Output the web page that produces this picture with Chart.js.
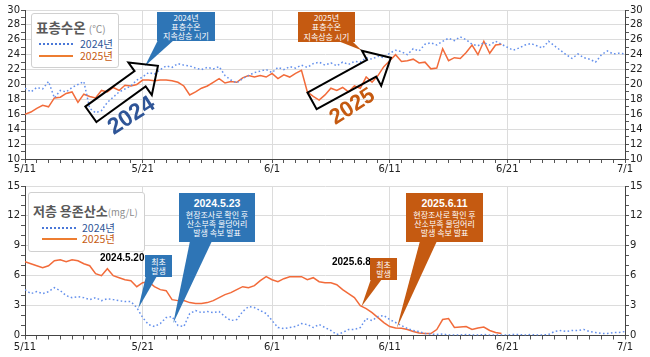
<!DOCTYPE html>
<html><head><meta charset="utf-8">
<script src="https://cdn.jsdelivr.net/npm/chart.js@4/dist/chart.umd.min.js"></script>
<style>
html,body{margin:0;padding:0;background:#fff;}
#wrap{position:relative;width:650px;height:357px;overflow:hidden;font-family:"Noto Sans CJK KR","Noto Sans",sans-serif;}
canvas{position:absolute;left:0;}
#c1{top:0;}
#c2{top:178px;}
.co{position:absolute;z-index:6;color:#fff;text-align:center;box-sizing:border-box;display:flex;flex-direction:column;justify-content:center;align-items:center;font-size:8px;line-height:9.2px;white-space:nowrap;}
.blue{background:#2e75b6;}
.orange{background:#c55a11;}
.co b{font-family:"Liberation Sans",Arial,sans-serif;font-size:10.5px;line-height:12.5px;}
.leg{position:absolute;z-index:5;background:#fff;border:1px solid #d0d0d0;border-radius:3px;box-sizing:border-box;}
.legt{position:absolute;white-space:nowrap;font-weight:bold;color:#595959;}
.legt span{font-weight:normal;color:#8c8c8c;}
.legr{position:absolute;white-space:nowrap;font-size:10.5px;line-height:12px;}
.big{position:absolute;z-index:5;font-family:"Liberation Sans",Arial,sans-serif;font-weight:bold;white-space:nowrap;line-height:1;transform:translate(-50%,-50%) rotate(-33deg);}
.blk{position:absolute;z-index:5;font-family:"Liberation Sans",Arial,sans-serif;font-weight:bold;font-size:10px;color:#000;white-space:nowrap;line-height:1;}
</style>
</head><body>
<div id="wrap">
<canvas id="c1" width="650" height="178"></canvas>
<canvas id="c2" width="650" height="179"></canvas>

<!-- top legend -->
<div class="leg" style="left:31px;top:13px;width:88px;height:55px;">
  <div class="legt" style="left:4px;top:3px;font-size:13.5px;">표층수온 <span style="font-size:10px;">(℃)</span></div>
  <svg style="position:absolute;left:7px;top:28px;" width="34" height="4"><line x1="0" y1="2" x2="34" y2="2" stroke="#4a78d8" stroke-width="2" stroke-dasharray="2,2"/></svg>
  <div class="legr" style="left:48px;top:24px;color:#2f5597;">2024년</div>
  <svg style="position:absolute;left:7px;top:40px;" width="34" height="4"><line x1="0" y1="2" x2="34" y2="2" stroke="#ed7d31" stroke-width="2"/></svg>
  <div class="legr" style="left:48px;top:36px;color:#c55a11;">2025년</div>
</div>

<!-- bottom legend -->
<div class="leg" style="left:28px;top:192px;width:117px;height:60px;">
  <div class="legt" style="left:4px;top:8px;font-size:13px;">저층 용존산소<span style="font-size:9.5px;">(mg/L)</span></div>
  <svg style="position:absolute;left:13px;top:33px;" width="35" height="4"><line x1="0" y1="2" x2="35" y2="2" stroke="#4a78d8" stroke-width="2" stroke-dasharray="2,2"/></svg>
  <div class="legr" style="left:53px;top:29px;color:#2f5597;">2024년</div>
  <svg style="position:absolute;left:13px;top:44px;" width="35" height="4"><line x1="0" y1="2" x2="35" y2="2" stroke="#ed7d31" stroke-width="2"/></svg>
  <div class="legr" style="left:53px;top:40px;color:#c55a11;">2025년</div>
</div>

<!-- top callouts -->
<div class="co blue" style="left:157px;top:12px;width:58px;height:29px;"><div>2024년</div><div>표층수온</div><div>지속상승 시기</div></div>
<div class="co orange" style="left:298px;top:12px;width:57px;height:30px;"><div>2025년</div><div>표층수온</div><div>지속상승 시기</div></div>
<div class="big" style="left:131px;top:115px;font-size:23px;color:#2f5597;">2024</div>
<div class="big" style="left:352px;top:106px;font-size:22px;color:#c55a11;">2025</div>

<!-- bottom callouts -->
<div class="blk" style="left:100px;top:253px;">2024.5.20</div>
<div class="blk" style="left:332px;top:257px;">2025.6.8</div>
<div class="co blue" style="left:145px;top:255px;width:27px;height:22px;"><div>최초</div><div>발생</div></div>
<div class="co orange" style="left:370px;top:258px;width:27px;height:22px;"><div>최초</div><div>발생</div></div>
<div class="co blue" style="left:179px;top:193px;width:76px;height:49px;"><b>2024.5.23</b><div>현장조사로 확인 후</div><div>산소부족 물덩어리</div><div>발생 속보 발표</div></div>
<div class="co orange" style="left:406px;top:193px;width:77px;height:49px;"><b>2025.6.11</b><div>현장조사로 확인 후</div><div>산소부족 물덩어리</div><div>발생 속보 발표</div></div>
</div>

<script>
// ---------------- data ----------------
const STEP = 0.5; // days between readings, starting 5/11
const tickDays   = [0, 10, 21, 31, 41, 51];
const tickLabels = ['5/11', '5/21', '6/1', '6/11', '6/21', '7/1'];
const seriesNames = ['2024년', '2025년'];

// 표층수온 (℃)
const temp2024 = [
 19.5,19.0,19.6,19.4,20.4,18.2,19.2,19.0,19.6,20.0,
 20.4,16.8,16.2,16.5,17.6,18.3,19.0,19.4,19.8,20.6,
 21.0,21.6,21.4,22.0,22.5,22.3,22.8,22.6,22.5,22.2,
 22.0,22.3,22.1,22.4,21.2,20.6,20.2,20.8,21.2,21.6,
 21.8,22.0,21.6,22.3,22.0,22.4,22.2,22.6,22.3,22.8,
 23.0,22.6,22.9,22.5,23.0,22.7,23.1,23.0,23.6,23.4,
 23.8,23.6,24.2,24.6,24.4,24.0,24.8,24.5,25.4,25.6,
 25.3,25.8,26.2,25.9,26.4,26.0,25.4,25.2,25.6,25.3,
 25.8,25.4,25.0,24.6,24.9,25.3,25.5,25.2,24.9,25.8,
 25.2,24.6,24.0,23.5,24.1,23.6,23.4,23.0,24.0,24.5,
 24.1,24.2,24.1
];
const temp2025 = [
 16.0,16.3,16.8,17.2,17.0,18.2,18.3,18.8,19.0,17.6,
 18.7,18.4,18.2,19.2,19.0,19.6,19.2,19.9,19.8,20.0,
 20.6,20.6,20.5,20.6,20.6,20.5,20.3,19.8,18.6,19.0,
 19.5,19.8,20.3,20.8,20.2,20.4,20.3,20.9,21.2,21.0,
 21.2,21.0,21.5,20.8,21.3,21.0,21.5,21.9,19.0,18.4,
 17.9,18.6,19.5,19.2,19.6,19.0,19.8,19.5,21.0,20.3,
 21.2,22.4,23.2,24.0,23.1,23.2,23.4,22.9,23.0,22.1,
 22.2,24.8,23.2,23.6,23.5,24.3,25.3,24.0,25.8,24.2,
 25.3,25.4
];
// 저층 용존산소 (mg/L)
const do2024 = [
 4.6,4.2,4.4,4.2,4.4,4.8,4.5,4.0,3.8,3.9,
 3.8,3.6,3.8,3.5,3.7,3.6,3.5,3.4,3.4,2.8,
 1.8,1.1,0.9,1.2,1.8,1.9,1.0,0.9,2.2,2.5,
 2.3,2.4,2.3,2.4,1.9,1.5,1.6,2.4,2.9,2.8,
 2.5,2.2,1.5,0.8,0.7,0.8,0.9,1.2,1.1,0.8,
 1.1,0.8,0.5,0.1,0.3,0.6,0.6,0.8,1.7,1.5,
 1.9,2.0,1.6,1.3,1.0,0.7,0.5,0.4,0.2,0.15,
 0.1,0.15,0.05,0.05,0.05,0.1,0.05,0.05,0.1,0.05,
 0.05,0.05,0.05,0.1,0.1,0.05,0.1,0.05,0.05,0.1,
 0.4,0.5,0.4,0.5,0.5,0.6,0.4,0.3,0.2,0.2,
 0.3,0.3,0.4
];
const do2025 = [
 7.4,7.2,7.0,6.8,7.0,7.5,7.6,7.4,7.6,7.5,
 7.2,7.0,6.2,6.0,6.7,6.0,5.8,5.6,5.5,4.9,
 5.3,5.4,4.9,4.6,4.5,3.6,3.5,3.5,3.3,3.2,
 3.2,3.3,3.5,3.8,4.1,4.3,4.6,4.9,4.8,5.0,
 5.5,5.9,5.6,5.4,5.7,5.9,5.9,5.9,5.6,5.8,
 5.4,5.3,5.3,5.1,4.6,4.2,3.8,3.0,2.7,2.3,
 1.8,1.3,0.9,0.75,0.72,0.6,0.4,0.25,0.2,0.2,
 0.6,1.6,1.7,0.8,0.85,0.9,0.6,0.75,0.85,0.5,
 0.3,0.2
];

// ---------------- helpers ----------------
const BLUE = '#6490ec', ORANGE = '#f26b3a';
const toPts = arr => arr.map((v, i) => ({x: i * STEP, y: v}));
const tickFont = {family: 'DejaVu Sans', size: 10};

function xScale(h, pad) {
  return {
    type: 'linear', min: 0, max: 51,
    ticks: {stepSize: 1, autoSkip: false, maxRotation: 0, padding: pad, color: '#222', font: tickFont,
      callback: v => { const i = tickDays.indexOf(v); return i >= 0 ? tickLabels[i] : ''; }},
    grid: {color: c => (c.tick && tickDays.includes(c.tick.value) && c.tick.value > 0 && c.tick.value < 51) ? '#dcdcdc' : 'rgba(0,0,0,0)',
      tickColor: '#555', tickLength: 4},
    border: {color: '#444', width: 1},
    afterFit: s => { s.height = h; }
  };
}
function yScale(pos, min, max, lab) {
  return {
    type: 'linear', position: pos, min: min, max: max,
    ticks: {stepSize: 1, autoSkip: false, padding: 1, color: '#222', font: tickFont,
      callback: v => (Math.round(v - min) % lab === 0) ? String(v) : ''},
    grid: {color: c => (c.tick && Math.round(c.tick.value - min) % lab === 0) ? '#dcdcdc' : 'rgba(0,0,0,0)',
      tickColor: '#555', tickLength: 4, drawOnChartArea: pos === 'left'},
    border: {color: '#444', width: 1},
    afterFit: s => { s.width = 25; }
  };
}

function annotPlugin(items, offY) {
  return {
    id: 'annot',
    afterDatasetsDraw(chart) {
      const ctx = chart.ctx, xs = chart.scales.x, ys = chart.scales.y;
      const P = p => [xs.getPixelForValue(p[0]), ys.getPixelForValue(p[1])];
      ctx.save();
      items.forEach(it => {
        if (it.type === 'pointer') {
          const t = P(it.tip);
          ctx.beginPath();
          ctx.moveTo(it.base[0][0], it.base[0][1] - offY);
          ctx.lineTo(it.base[1][0], it.base[1][1] - offY);
          ctx.lineTo(t[0], t[1]);
          ctx.closePath();
          ctx.fillStyle = it.color; ctx.fill();
        } else if (it.type === 'arrow') {
          const a = P(it.from), b = P(it.to);
          const dx = b[0] - a[0], dy = b[1] - a[1], L = Math.hypot(dx, dy);
          const ux = dx / L, uy = dy / L, nx = -uy, ny = ux;
          const s = 9.5, h = 20, hl = 22;
          const bx = b[0] - ux * hl, by = b[1] - uy * hl;
          const pts = [
            [a[0] + nx * s, a[1] + ny * s], [bx + nx * s, by + ny * s], [bx + nx * h, by + ny * h],
            [b[0], b[1]],
            [bx - nx * h, by - ny * h], [bx - nx * s, by - ny * s], [a[0] - nx * s, a[1] - ny * s]
          ];
          ctx.beginPath();
          pts.forEach((p, i) => i ? ctx.lineTo(p[0], p[1]) : ctx.moveTo(p[0], p[1]));
          ctx.closePath();
          ctx.lineWidth = 2; ctx.lineJoin = 'miter'; ctx.strokeStyle = '#000'; ctx.stroke();
        }
      });
      ctx.restore();
    }
  };
}

function ds(label, arr, color, dash) {
  return {label: label, data: toPts(arr), borderColor: color, backgroundColor: color,
    borderWidth: 1.5, borderDash: dash, pointRadius: 0, tension: 0, yAxisID: 'y'};
}

const commonOpts = (top, xh, xpad, ymin, ymax, lab) => ({
  responsive: false, animation: false, parsing: false,
  layout: {padding: {top: top, left: 0, right: 0, bottom: 0}},
  plugins: {legend: {display: false}, tooltip: {enabled: false}},
  scales: {x: xScale(xh, xpad), y: yScale('left', ymin, ymax, lab), y2: yScale('right', ymin, ymax, lab)}
});

new Chart(document.getElementById('c1'), {
  type: 'line',
  data: {datasets: [ds(seriesNames[0], temp2024, BLUE, [1.6, 2.4]), ds(seriesNames[1], temp2025, ORANGE, [])]},
  options: commonOpts(10, 19, 0, 10, 30, 2),
  plugins: [annotPlugin([
    {type: 'pointer', color: '#2e75b6', base: [[158, 40], [174, 40]], tip: [10.2, 22.5]},
    {type: 'pointer', color: '#c55a11', base: [[338, 41], [352, 41]], tip: [28.6, 24.6]},
    {type: 'arrow', from: [5.6, 16.0], to: [11.3, 22.5]},
    {type: 'arrow', from: [24.4, 17.8], to: [31.1, 23.6]}
  ], 0)]
});

new Chart(document.getElementById('c2'), {
  type: 'line',
  data: {datasets: [ds(seriesNames[0], do2024, BLUE, [1.6, 2.4]), ds(seriesNames[1], do2025, ORANGE, [])]},
  options: commonOpts(8, 21.5, 2, 0, 15, 3),
  plugins: [annotPlugin([
    {type: 'pointer', color: '#2e75b6', base: [[146, 276], [157, 276]], tip: [9.63, 2.74]},
    {type: 'pointer', color: '#2e75b6', base: [[190, 241], [212, 241]], tip: [12.6, 1.23]},
    {type: 'pointer', color: '#c55a11', base: [[371, 279], [382, 279]], tip: [28.6, 2.9]},
    {type: 'pointer', color: '#c55a11', base: [[420, 241], [437, 241]], tip: [31.6, 0.73]}
  ], 178)]
});
</script>
</body></html>
